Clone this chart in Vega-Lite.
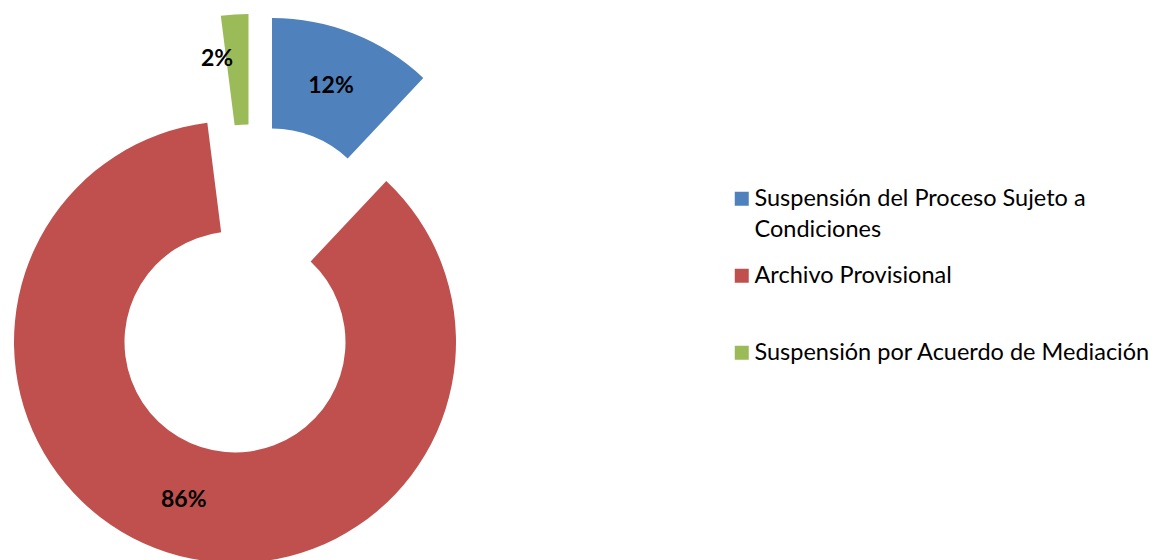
{
  "$schema": "https://vega.github.io/schema/vega-lite/v6.json",
  "width": 504,
  "height": 580,
  "padding": 0,
  "background": "white",
  "config": {"view": {"stroke": null}},
  "data": {
    "values": [
      {"categoria": "Suspensión del Proceso Sujeto a Condiciones", "proporcion": 0.12, "orden": 1},
      {"categoria": "Archivo Provisional", "proporcion": 0.86, "orden": 2},
      {"categoria": "Suspensión por Acuerdo de Mediación", "proporcion": 0.02, "orden": 3}
    ]
  },
  "layer": [
    {
      "transform": [
        {"stack": "proporcion", "groupby": [], "sort": [{"field": "orden", "order": "ascending"}], "as": ["p0", "p1"]},
        {"filter": "datum.orden == 1"}
      ],
      "mark": {"type": "arc", "outerRadius": 221, "innerRadius": 110.5, "xOffset": 20, "yOffset": -51},
      "encoding": {
        "theta": {"field": "p0", "type": "quantitative", "scale": {"domain": [0, 1]}},
        "theta2": {"field": "p1"},
        "color": {
          "field": "categoria",
          "type": "nominal",
          "scale": {
            "domain": ["Suspensión del Proceso Sujeto a Condiciones", "Archivo Provisional", "Suspensión por Acuerdo de Mediación"],
            "range": ["#4F81BD", "#C0504D", "#9BBB59"]
          },
          "legend": {
            "orient": "none",
            "legendX": 730,
            "legendY": 187,
            "padding": 0,
            "title": null,
            "symbolType": "square",
            "symbolSize": 196,
            "symbolStrokeWidth": 0,
            "symbolOpacity": 1,
            "labelFont": "Lato",
            "labelFontSize": 23.5,
            "labelColor": "black",
            "labelOffset": 1,
            "labelLimit": 0,
            "rowPadding": 21,
            "gridAlign": "all",
            "labelExpr": "datum.label == 'Suspensión del Proceso Sujeto a Condiciones' ? ['Suspensión del Proceso Sujeto a', 'Condiciones'] : datum.label",
            "encode": {
              "labels": {
                "update": {
                  "lineHeight": {"value": 31}
                }
              }
            }
          }
        }
      }
    },
    {
      "transform": [
        {"stack": "proporcion", "groupby": [], "sort": [{"field": "orden", "order": "ascending"}], "as": ["p0", "p1"]},
        {"filter": "datum.orden == 2"}
      ],
      "mark": {"type": "arc", "outerRadius": 221, "innerRadius": 110.5, "xOffset": -17, "yOffset": 52},
      "encoding": {
        "theta": {"field": "p0", "type": "quantitative", "scale": {"domain": [0, 1]}},
        "theta2": {"field": "p1"},
        "color": {"field": "categoria", "type": "nominal"}
      }
    },
    {
      "transform": [
        {"stack": "proporcion", "groupby": [], "sort": [{"field": "orden", "order": "ascending"}], "as": ["p0", "p1"]},
        {"filter": "datum.orden == 3"}
      ],
      "mark": {"type": "arc", "outerRadius": 221, "innerRadius": 110.5, "xOffset": -3.5, "yOffset": -55},
      "encoding": {
        "theta": {"field": "p0", "type": "quantitative", "scale": {"domain": [0, 1]}},
        "theta2": {"field": "p1"},
        "color": {"field": "categoria", "type": "nominal"}
      }
    },
    {
      "mark": {"type": "text", "radius": 165.75, "xOffset": 18, "yOffset": -50, "font": "Lato", "fontSize": 23, "fontWeight": "bold", "color": "black"},
      "encoding": {
        "theta": {"field": "proporcion", "type": "quantitative", "stack": true, "scale": {"domain": [0, 1]}},
        "order": {"field": "orden"},
        "detail": {"field": "categoria"},
        "text": {"condition": {"test": "datum.orden == 1", "field": "proporcion", "type": "quantitative", "format": ".0%"}, "value": ""}
      }
    },
    {
      "mark": {"type": "text", "radius": 165.75, "xOffset": -17, "yOffset": 52, "font": "Lato", "fontSize": 23, "fontWeight": "bold", "color": "black"},
      "encoding": {
        "theta": {"field": "proporcion", "type": "quantitative", "stack": true, "scale": {"domain": [0, 1]}},
        "order": {"field": "orden"},
        "detail": {"field": "categoria"},
        "text": {"condition": {"test": "datum.orden == 2", "field": "proporcion", "type": "quantitative", "format": ".0%"}, "value": ""}
      }
    },
    {
      "mark": {"type": "text", "radius": 165.75, "xOffset": -3.5, "yOffset": -55, "dx": -21, "dy": -11, "font": "Lato", "fontSize": 23, "fontWeight": "bold", "color": "black"},
      "encoding": {
        "theta": {"field": "proporcion", "type": "quantitative", "stack": true, "scale": {"domain": [0, 1]}},
        "order": {"field": "orden"},
        "detail": {"field": "categoria"},
        "text": {"condition": {"test": "datum.orden == 3", "field": "proporcion", "type": "quantitative", "format": ".0%"}, "value": ""}
      }
    }
  ]
}
